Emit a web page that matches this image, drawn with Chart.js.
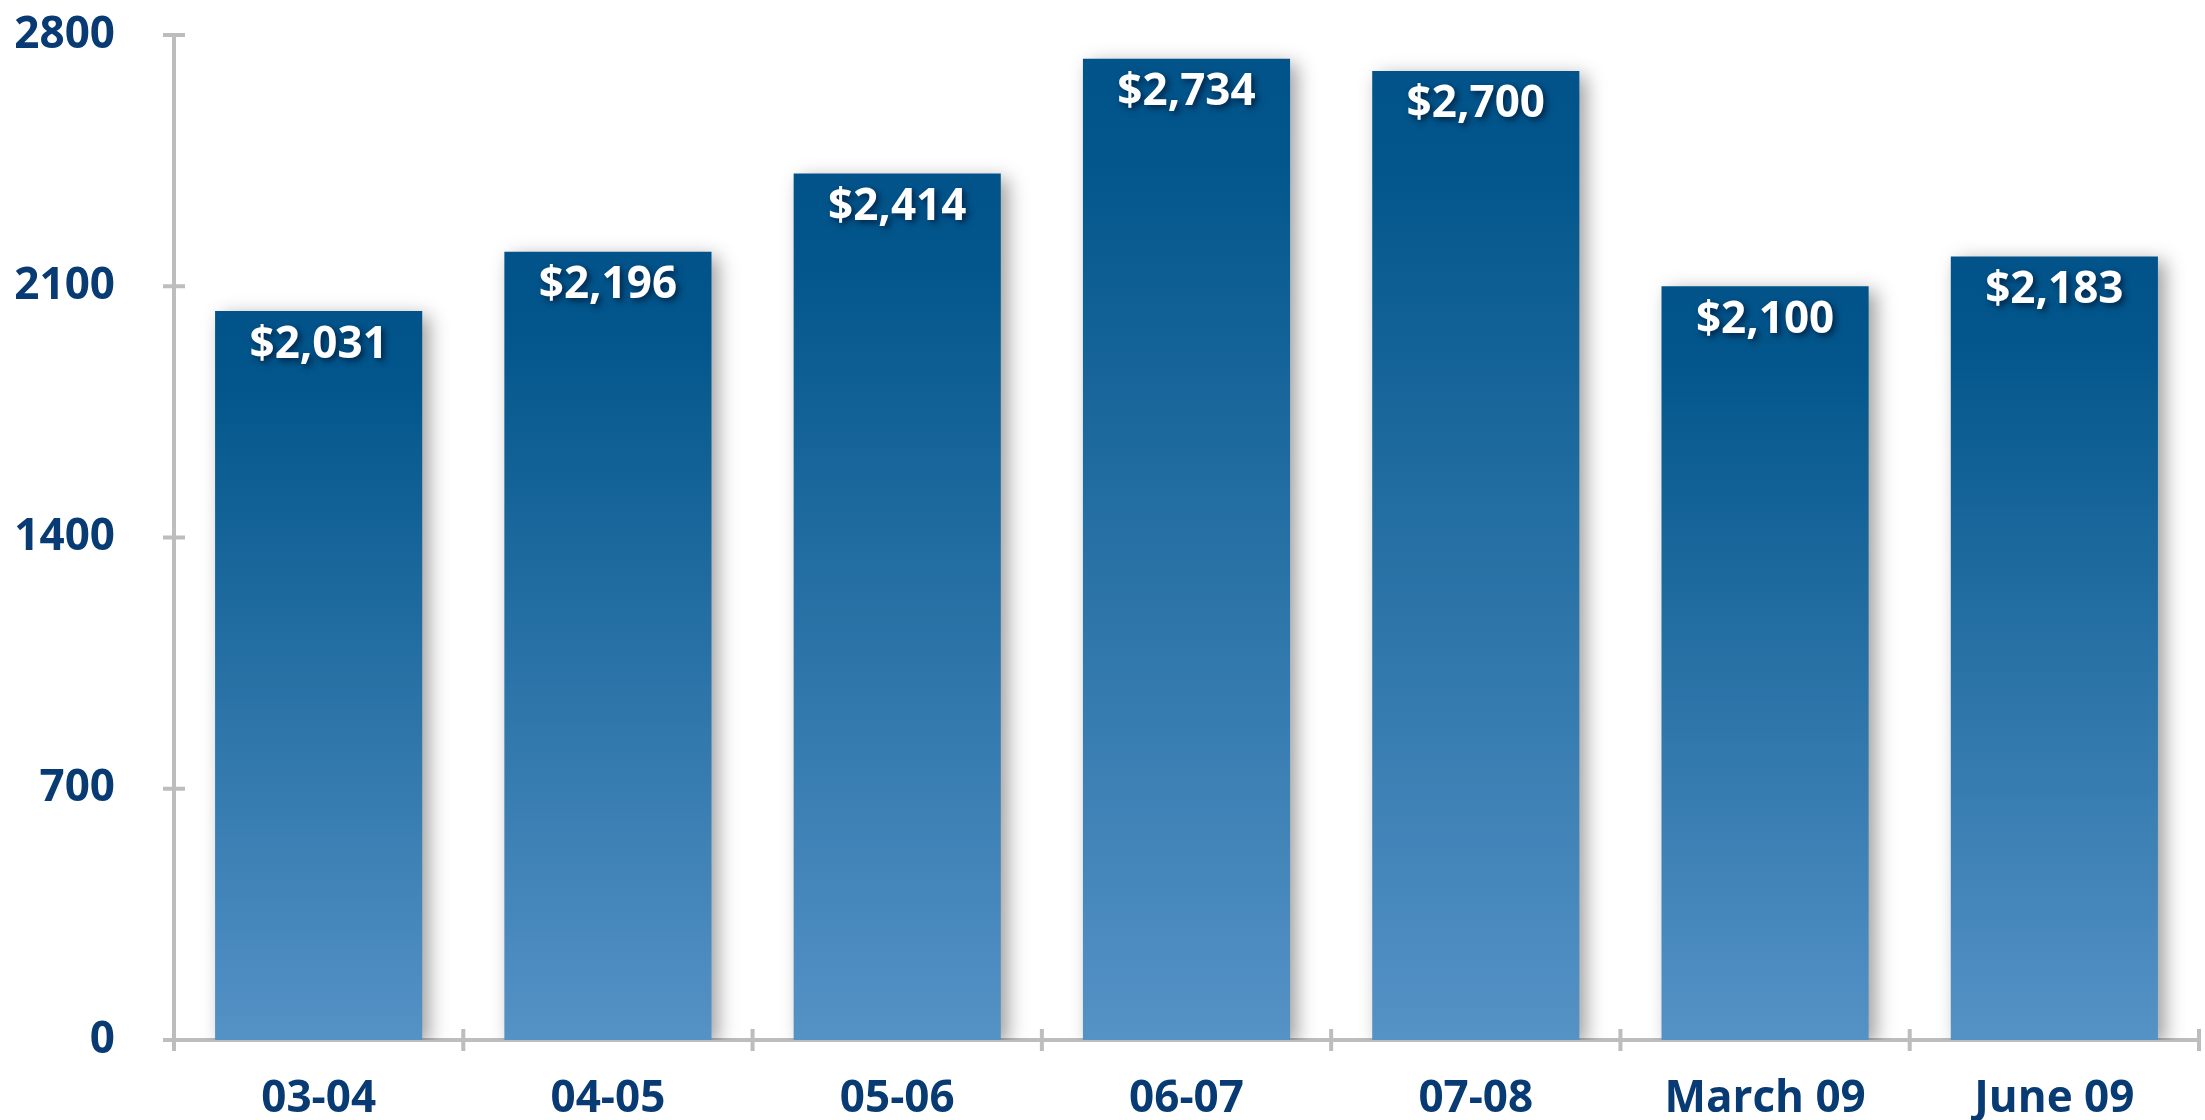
<!DOCTYPE html>
<html>
<head>
<meta charset="utf-8">
<script src="https://cdn.jsdelivr.net/npm/chart.js@4.4.1/dist/chart.umd.min.js"></script>
<style>
  html, body { margin: 0; padding: 0; background: #ffffff; }
  #wrap { width: 2205px; height: 1120px; position: relative; }
</style>
</head>
<body>
<div id="wrap"><canvas id="c" width="2205" height="1120"></canvas></div>
<script>
const categories = ["03-04", "04-05", "05-06", "06-07", "07-08", "March 09", "June 09"];
const values = [2031, 2196, 2414, 2734, 2700, 2100, 2183];
const yTicks = [0, 700, 1400, 2100, 2800];

const NAVY = '#083b73';
const AXIS = '#bdbdbd';
const FONT = '"Open Sans", "Noto Sans", sans-serif';

function barGradient(ctx) {
  const chart = ctx.chart;
  const y = chart.scales && chart.scales.y;
  if (!y || !chart.chartArea || ctx.dataIndex === undefined) return '#2a6ea6';
  const top = y.getPixelForValue(values[ctx.dataIndex]);
  const bottom = y.getPixelForValue(0);
  if (!isFinite(top) || !isFinite(bottom)) return '#2a6ea6';
  const g = chart.ctx.createLinearGradient(0, top, 0, bottom);
  g.addColorStop(0, '#01538a');
  g.addColorStop(0.1, '#02568b');
  g.addColorStop(1, '#5592c6');
  return g;
}

const shadowPlugin = {
  id: 'barShadow',
  beforeDatasetsDraw(chart) {
    const c = chart.ctx;
    c.save();
    c.shadowColor = 'rgba(0,0,0,0.38)';
    c.shadowBlur = 18;
    c.shadowOffsetX = 7;
    c.shadowOffsetY = 5;
  },
  afterDatasetsDraw(chart) {
    chart.ctx.restore();
  }
};

const axisTicksPlugin = {
  id: 'axisTicks',
  afterDraw(chart) {
    const c = chart.ctx;
    const ys = chart.scales.y;
    const area = chart.chartArea;
    c.save();
    c.strokeStyle = AXIS;
    c.lineWidth = 4;
    c.beginPath();
    ys.ticks.forEach((t, i) => {
      const py = ys.getPixelForTick(i);
      c.moveTo(area.left - 11, py);
      c.lineTo(area.left + 11, py);
    });
    const n = categories.length;
    for (let i = 0; i <= n; i++) {
      const px = area.left + (area.right - area.left) * i / n;
      c.moveTo(px, area.bottom - 11);
      c.lineTo(px, area.bottom + 11);
    }
    c.stroke();
    c.restore();
  }
};

const labelPlugin = {
  id: 'valueLabels',
  afterDatasetsDraw(chart) {
    const c = chart.ctx;
    const meta = chart.getDatasetMeta(0);
    c.save();
    c.font = 'bold 44px ' + FONT;
    c.textAlign = 'center';
    c.textBaseline = 'middle';
    c.fillStyle = '#ffffff';
    c.shadowColor = 'rgba(0,20,50,0.75)';
    c.shadowBlur = 6;
    c.shadowOffsetX = 3;
    c.shadowOffsetY = 3;
    meta.data.forEach((bar, i) => {
      const txt = '$' + values[i].toLocaleString('en-US');
      c.fillText(txt, bar.x, bar.y + 34);
    });
    c.restore();
  }
};

new Chart(document.getElementById('c'), {
  type: 'bar',
  data: {
    labels: categories,
    datasets: [{
      data: values,
      backgroundColor: barGradient,
      borderWidth: 0,
      barPercentage: 0.716,
      categoryPercentage: 1.0
    }]
  },
  options: {
    responsive: false,
    animation: false,
    devicePixelRatio: 1,
    layout: { padding: { top: 35, right: 6, left: 0, bottom: 0 } },
    plugins: { legend: { display: false }, tooltip: { enabled: false } },
    scales: {
      x: {
        grid: { display: false, drawTicks: false, tickLength: 0 },
        border: { display: true, color: AXIS, width: 4 },
        ticks: {
          color: NAVY,
          font: { family: FONT, size: 44, weight: 'bold' },
          padding: 33,
          maxRotation: 0,
          autoSkip: false
        },
        afterFit(scale) { scale.height = 80; scale.paddingLeft = 0; scale.paddingRight = 0; }
      },
      y: {
        min: 0,
        max: 2800,
        afterBuildTicks(scale) { scale.ticks = yTicks.map(v => ({ value: v })); },
        grid: { display: false, drawTicks: false, tickLength: 0 },
        border: { display: true, color: AXIS, width: 4 },
        ticks: {
          color: NAVY,
          font: { family: FONT, size: 44, weight: 'bold' },
          padding: 59,
          callback: (v) => String(v)
        },
        afterFit(scale) { scale.width = 174; scale.paddingTop = 0; scale.paddingBottom = 0; }
      }
    }
  },
  plugins: [shadowPlugin, labelPlugin, axisTicksPlugin]
});
</script>
</body>
</html>
